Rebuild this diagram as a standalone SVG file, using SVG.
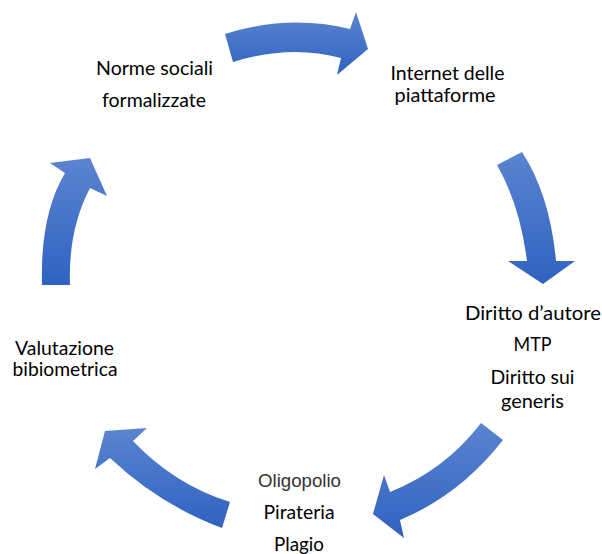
<svg xmlns="http://www.w3.org/2000/svg" width="602" height="554" viewBox="0 0 602 554">
<defs>
<linearGradient id="g" x1="0" y1="0" x2="0" y2="1">
<stop offset="0" stop-color="#5b84d0"/>
<stop offset="1" stop-color="#2f62c1"/>
</linearGradient>
<style>
.a{fill:url(#g);}
.t{font-family:Lato,"Open Sans","Liberation Sans",sans-serif;font-size:19px;fill:#000;text-anchor:middle;}
.o{font-family:"Liberation Sans",Arial,sans-serif;font-size:18px;fill:#333;text-anchor:middle;}
</style>
</defs>
<g id="connectors">
<path class="a" d="M225,34 Q288,14 350,29 L356,12 L368,49 L337,75 L341,58 Q290,44 233,62 Z"/>
<path class="a" d="M522,152 Q550,195 556,261 L575,261 L543,284 L508,261 L527,261 Q520,205 497,165 Z"/>
<path class="a" d="M503,440 Q460,495 400,520 L404,538 L373,514 L384,475 L390,492 Q445,470 481,423 Z"/>
<path class="a" d="M230,502 L222,528 Q160,505 110,458 L95,469 L105,431 L147,428 L133,441 Q175,485 230,502 Z"/>
<path class="a" d="M42,285 Q40,215 65,173 L50,163 L90,158 L107,196 L90,188 Q68,230 70,285 Z"/>
</g>
<g id="n1"><text class="t" x="154.5" y="74.5" textLength="117" lengthAdjust="spacingAndGlyphs">Norme sociali</text><text class="t" x="154" y="106.5" textLength="104" lengthAdjust="spacingAndGlyphs">formalizzate</text></g>
<g id="n2"><text class="t" x="447.5" y="80" textLength="114" lengthAdjust="spacingAndGlyphs">Internet delle</text><text class="t" x="445" y="102" textLength="101" lengthAdjust="spacingAndGlyphs">piattaforme</text></g>
<g id="n3"><text class="t" x="533" y="320" textLength="136" lengthAdjust="spacingAndGlyphs">Diritto d’autore</text><text class="t" x="532.5" y="351" textLength="38" lengthAdjust="spacingAndGlyphs">MTP</text><text class="t" x="532.5" y="384" textLength="84" lengthAdjust="spacingAndGlyphs">Diritto sui</text><text class="t" x="532.5" y="408" textLength="63" lengthAdjust="spacingAndGlyphs">generis</text></g>
<g id="n4"><text class="o" x="299.5" y="487" textLength="83" lengthAdjust="spacingAndGlyphs">Oligopolio</text><text class="t" x="299" y="519" textLength="71" lengthAdjust="spacingAndGlyphs">Pirateria</text><text class="t" x="299" y="550.5" textLength="50" lengthAdjust="spacingAndGlyphs">Plagio</text></g>
<g id="n5"><text class="t" x="64.5" y="354.5" textLength="99" lengthAdjust="spacingAndGlyphs">Valutazione</text><text class="t" x="65" y="375.5" textLength="105" lengthAdjust="spacingAndGlyphs">bibiometrica</text></g>
</svg>
